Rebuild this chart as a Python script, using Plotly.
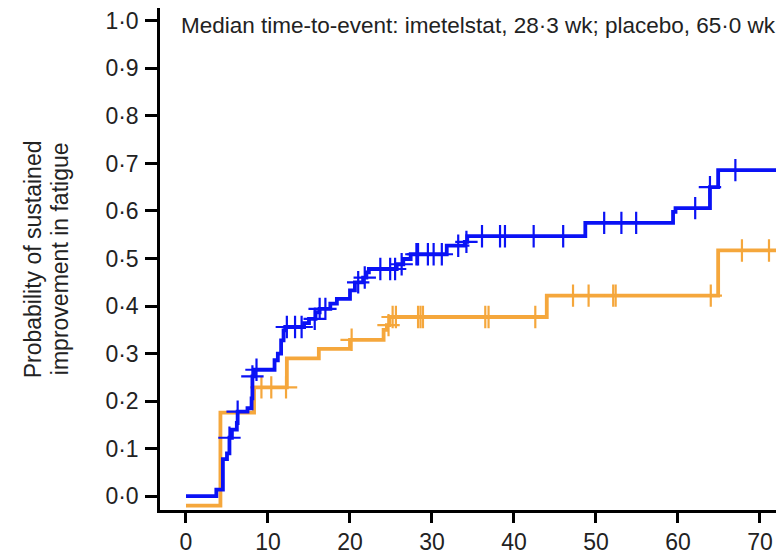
"""Kaplan-Meier: sustained improvement in fatigue, imetelstat vs placebo."""
import numpy as np
import plotly.graph_objects as go

BLUE = "#0a12f5"
ORANGE = "#f5a73c"
INK = "#222222"
FONT = "Arial, Liberation Sans, sans-serif"

# imetelstat step curve (weeks, probability)
imet_t = [0, 3.7, 4.5, 5.0, 5.3, 5.6, 6.2, 6.3, 7.5, 8.0, 8.1, 8.3, 10.8, 11.2, 11.6,
          11.9, 12.1, 14.4, 15.0, 15.8, 16.3, 17.6, 18.4, 20.0, 20.6, 21.6, 22.0, 22.3,
          25.7, 26.5, 27.4, 31.8, 34.0, 34.3, 48.7, 59.4, 59.7, 63.9, 64.9, 74.0]
imet_p = [0.0, 0.014, 0.078, 0.09, 0.123, 0.14, 0.154, 0.178, 0.185, 0.206, 0.252, 0.266,
          0.286, 0.30, 0.328, 0.349, 0.356, 0.364, 0.373, 0.387, 0.394, 0.405, 0.415,
          0.433, 0.45, 0.46, 0.471, 0.478, 0.488, 0.499, 0.509, 0.527, 0.535, 0.547,
          0.575, 0.598, 0.606, 0.65, 0.686, 0.686]
imet_cens = [5.3, 6.3, 8.1, 8.6, 12.3, 13.3, 14.1, 15.7, 16.3, 17.0, 21.0, 21.8, 23.7,
             24.9, 25.5, 26.3, 28.1, 28.3, 29.5, 30.2, 31.2, 33.2, 34.2, 36.1, 38.3,
             38.9, 42.4, 46.0, 51.0, 53.1, 54.9, 62.1, 63.9, 67.0]

# placebo step curve
plac_t = [0, 4.2, 8.3, 12.3, 16.2, 20.0, 24.1, 24.5, 24.8, 44.0, 64.9, 74.0]
plac_p = [-0.02, 0.176, 0.229, 0.29, 0.31, 0.329, 0.35, 0.36, 0.377, 0.422, 0.517, 0.517]
plac_cens = [9.2, 10.4, 12.2, 20.2, 24.7, 25.2, 25.6, 28.3, 28.6, 28.9, 36.5, 36.9,
             42.6, 47.2, 49.1, 52.1, 52.4, 64.0, 67.8, 71.1, 72.4, 72.8]

y_ticks = [0.0, 0.1, 0.2, 0.3, 0.4, 0.5, 0.6, 0.7, 0.8, 0.9, 1.0]
y_labels = [f"{v:.1f}".replace(".", "·") for v in y_ticks]
x_ticks = [0, 10, 20, 30, 40, 50, 60, 70]


def step_at(ts, ps, t):
    i = np.searchsorted(ts, t, side="right") - 1
    return ps[max(i, 0)]


fig = go.Figure()
for ts, ps, cens, col in [(plac_t, plac_p, plac_cens, ORANGE),
                          (imet_t, imet_p, imet_cens, BLUE)]:
    fig.add_trace(go.Scatter(x=ts, y=ps, mode="lines", line_shape="hv",
                             line=dict(color=col, width=3.8), showlegend=False))
    fig.add_trace(go.Scatter(x=cens, y=[step_at(ts, ps, c) for c in cens],
                             mode="markers", showlegend=False,
                             marker=dict(symbol="cross-thin", size=16,
                                         line=dict(color=col, width=2.2))))

fig.add_annotation(text="Median time-to-event: imetelstat, 28·3 wk; placebo, 65·0 wk",
                   xref="paper", yref="paper", x=0.030, y=0.966,
                   xanchor="left", yanchor="middle", showarrow=False,
                   font=dict(size=22.5, color=INK, family=FONT))
# y-axis title, two lines set a bit tighter than plotly's default line height
for txt, px in [("Probability of sustained", -0.203), ("improvement in fatigue", -0.160)]:
    fig.add_annotation(text=txt, xref="paper", yref="paper", x=px, y=0.50,
                       xanchor="center", yanchor="middle", textangle=-90,
                       showarrow=False, font=dict(size=23, color=INK, family=FONT))

# page body has an 8px margin, so the figure is sized to fit the 784x555 window
fig.update_layout(
    width=776, height=547,
    paper_bgcolor="white", plot_bgcolor="white",
    margin=dict(l=152, r=0, t=0, b=41),
    font=dict(family=FONT, size=23, color=INK),
)
fig.update_xaxes(range=[-3.17, 72.93], tickvals=x_ticks, showgrid=False, zeroline=False,
                 showline=True, linecolor="black", linewidth=2.5,
                 ticks="outside", ticklen=10, tickwidth=2.5, tickcolor="black",
                 ticklabeloverflow="allow")
fig.update_yaxes(range=[-0.029, 1.027], tickvals=y_ticks, ticktext=y_labels,
                 showgrid=False, zeroline=False,
                 showline=True, linecolor="black", linewidth=2.5,
                 ticks="outside", ticklen=12, tickwidth=2.5, tickcolor="black",
                 ticklabelstandoff=2, ticklabeloverflow="allow")

fig.write_html("out.html", config={"displayModeBar": False})
